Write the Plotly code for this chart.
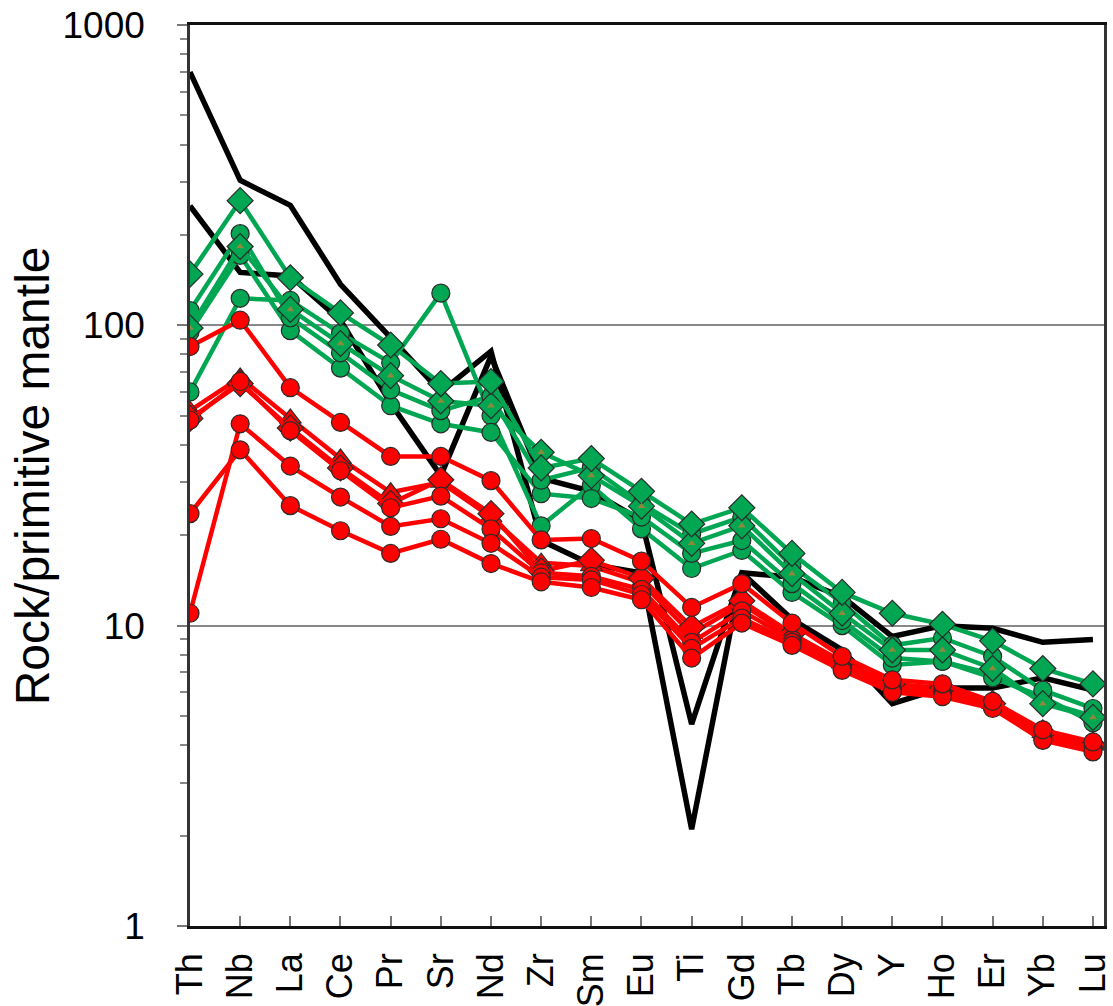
import plotly.graph_objects as go

# Trace-element spider diagram, normalised to primitive mantle
elements = ["Th", "Nb", "La", "Ce", "Pr", "Sr", "Nd", "Zr", "Sm", "Eu",
            "Ti", "Gd", "Tb", "Dy", "Y", "Ho", "Er", "Yb", "Lu"]

# reference patterns (black)
ref_a = [697, 304, 251, 137, 91, 60, 82, 19.2, 16, 15, 2.1, 15, 10.5, 8.3, 5.5, 6.2, 6.2, 6.7, 6.1]
ref_b = [250, 150, 146, 104, 55, 31.6, 79, 31, 28, 22.4, 4.7, 15, 14.5, 12.5, 9.2, 10.0, 9.8, 8.8, 9.0]

# green group
green_1 = [148, 260, 144, 110, 86, 64, 65, 33.5, 36, 28, 21.8, 24.7, 17.4, 12.9, 11.0, 10.1, 8.9, 7.2, 6.4]
green_2 = [112, 202, 106, 81, 61, 52, 58, 30.5, 33.6, 25.5, 20.2, 23, 15.8, 11.9, 8.6, 9.1, 7.9, 6.1, 5.3]
green_3 = [98, 183, 113, 87, 68, 56, 54, 37.8, 31.6, 25, 18.8, 21.5, 14.9, 11, 8.3, 8.3, 7.2, 5.5, 4.95]
green_4 = [95, 171, 96, 72, 54, 47, 44, 27.5, 26.5, 23, 17.4, 19.2, 13.8, 10.4, 7.8, 7.6, 6.7, 5.8, 4.75]
green_5 = [60, 123, 121, 94, 75, 128, 50, 21.5, 29.3, 21, 15.5, 17.8, 12.9, 10, 7.4, 7.6, 6.9, 5.6, 5.0]

# red group
red_tri = [52, 67, 49, 36, 27.8, 30.0, 23.0, 16.2, 15.8, 13.9, 9.4, 11.8, 9.2, 7.5, 6.3, 6.1, 5.5, 4.4, 4.0]
red_dia = [49, 64, 45.5, 33.5, 25.5, 30.6, 23.6, 15.2, 16.5, 14.4, 9.9, 12.1, 9.4, 7.6, 6.4, 6.2, 5.5, 4.4, 4.0]
red_3 = [48.3, 65, 44.6, 32.8, 24.7, 27, 21, 15, 14.6, 13.2, 8.8, 11.2, 9.0, 7.4, 6.2, 6.0, 5.4, 4.3, 3.9]
red_4 = [11, 47, 34, 26.8, 21.4, 22.7, 18.8, 14.5, 14.2, 12.7, 8.4, 10.6, 8.8, 7.2, 6.1, 5.9, 5.35, 4.25, 3.9]
red_5 = [23.6, 38.5, 25.1, 20.7, 17.4, 19.4, 16.1, 14, 13.4, 12.2, 7.8, 10.2, 8.6, 7.1, 6.0, 5.8, 5.3, 4.15, 3.8]
red_1 = [85, 104, 62, 47.5, 36.6, 36.6, 30.4, 19.3, 19.5, 16.4, 11.5, 13.8, 10.2, 7.9, 6.6, 6.4, 5.6, 4.5, 4.1]

y_ticks = [1, 10, 100, 1000]
y_tick_text = ["1", "10", "100", "1000"]

GREEN = "#00A651"
RED = "#FF0000"
EDGE = "#2b2b2b"
FONT = "Liberation Sans, Arial, sans-serif"

x = list(range(len(elements)))
fig = go.Figure()


def add_line(values, color, width):
    fig.add_trace(go.Scatter(x=x, y=values, mode="lines",
                             line=dict(color=color, width=width)))


def add_series(values, color, symbol, size):
    fig.add_trace(go.Scatter(
        x=x, y=values, mode="lines+markers",
        line=dict(color=color, width=4.5),
        marker=dict(symbol=symbol, size=size, color=color,
                    line=dict(color=EDGE, width=1.2)),
    ))


add_line(ref_a, "#000000", 5.5)
add_line(ref_b, "#000000", 5.5)

add_series(green_5, GREEN, "circle", 18)
add_series(green_4, GREEN, "circle", 18)
add_series(green_2, GREEN, "circle", 18)
add_series(green_3, GREEN, "diamond", 20)
add_series(green_1, GREEN, "diamond", 20)
# small olive triangle marks of the third green sample
fig.add_trace(go.Scatter(x=x, y=green_3, mode="markers",
                         marker=dict(symbol="triangle-up", size=7, color="#8a8a3c",
                                     line=dict(width=0))))

add_series(red_tri, RED, "triangle-up", 19)
add_series(red_dia, RED, "diamond", 20)
add_series(red_3, RED, "circle", 18)
add_series(red_4, RED, "circle", 18)
add_series(red_5, RED, "circle", 18)
add_series(red_1, RED, "circle", 18)

fig.update_layout(
    width=1113, height=1006,
    margin=dict(l=190, r=9, t=25, b=80),
    paper_bgcolor="white", plot_bgcolor="white",
    showlegend=False,
    font=dict(family=FONT, color="black"),
)

fig.update_xaxes(
    range=[0, 18.22], automargin=False,
    tickmode="array", tickvals=x, ticktext=elements,
    tickangle=-90, tickfont=dict(size=36, family=FONT, color="black"),
    ticks="inside", ticklen=10, tickcolor="#777", tickwidth=1.5,
    ticklabelstandoff=10,
    showline=True, linecolor="#111", linewidth=2.5, mirror=True,
    showgrid=False, zeroline=False,
)

fig.update_yaxes(
    type="log", range=[0, 3], automargin=False,
    tickmode="array", tickvals=y_ticks, ticktext=y_tick_text,
    tickfont=dict(size=37, family=FONT, color="black"),
    ticks="outside", ticklen=10, tickcolor="#777", tickwidth=1.5,
    ticklabelstandoff=25,
    minor=dict(ticks="outside", ticklen=7, tickcolor="#888", tickwidth=1.5,
               tickmode="array",
               tickvals=[m * d for d in (1, 10, 100) for m in range(2, 10)],
               showgrid=False),
    showline=True, linecolor="#333", linewidth=2.5, mirror=True,
    showgrid=True, gridcolor="#888", gridwidth=1.5,
    zeroline=False,
)

fig.add_annotation(
    text="Rock/primitive mantle", textangle=-90,
    xref="paper", yref="paper", x=-0.172, y=0.5,
    xanchor="center", yanchor="middle", showarrow=False,
    font=dict(size=48, family=FONT, color="black"),
)

fig.write_html("out.html")
